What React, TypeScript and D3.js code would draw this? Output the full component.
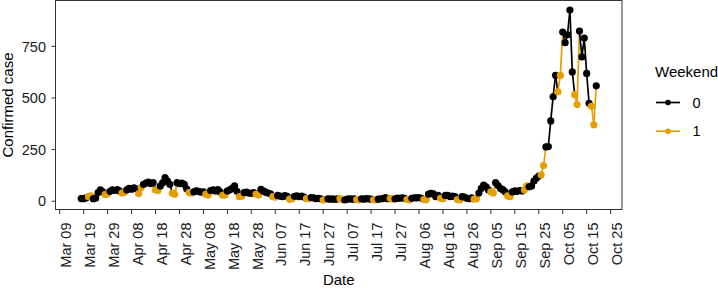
import React from "react";
import * as d3 from "d3";

const startDate = "2020-03-18";
// daily confirmed cases, Mar 18 2020 .. Oct 19 2020
const cases = [
  13, 12, 16, 22, 26,
  12, 15, 42, 55, 45, 33, 36,
  48, 55, 52, 56, 50, 40, 44,
  55, 62, 58, 65, 60, 37, 66,
  82, 88, 93, 85, 90, 55, 52,
  74, 90, 114, 98, 82, 40, 34,
  90, 85, 88, 82, 60, 42, 40,
  45, 50, 48, 44, 46, 34, 30,
  52, 55, 50, 56, 45, 29, 30,
  50, 55, 62, 74, 48, 22, 24,
  42, 44, 40, 38, 42, 34, 30,
  58, 50, 44, 40, 36, 22, 20,
  28, 25, 22, 27, 24, 10, 12,
  24, 26, 22, 25, 20, 13, 12,
  18, 16, 13, 14, 12, 6, 8,
  12, 10, 11, 9, 12, 13, 8,
  6, 10, 12, 10, 11, 8, 6,
  12, 10, 13, 12, 10, 7, 6,
  10, 12, 13, 18, 12, 14, 10,
  12, 15, 14, 16, 14, 8, 6,
  14, 17, 16, 18, 14, 8, 7,
  34, 38, 36, 22, 28, 14, 12,
  28, 28, 22, 25, 22, 8, 6,
  22, 20, 14, 12, 16, 10, 12,
  40, 62, 78, 70, 55, 45, 40,
  90, 76, 62, 56, 45, 26, 22,
  45, 50, 48, 52, 50, 54, 74,
  70, 74, 98, 112, 122, 128, 173,
  263, 265, 389, 506, 610, 530, 609,
  819, 768, 806, 926, 626, 516, 468,
  824, 699, 790, 619, 474, 460, 370,
  559,
];

const xTickDates = [
  "2020-03-09", "2020-03-19", "2020-03-29", "2020-04-08", "2020-04-18", "2020-04-28",
  "2020-05-08", "2020-05-18", "2020-05-28", "2020-06-07", "2020-06-17", "2020-06-27",
  "2020-07-07", "2020-07-17", "2020-07-27", "2020-08-06", "2020-08-16", "2020-08-26",
  "2020-09-05", "2020-09-15", "2020-09-25", "2020-10-05", "2020-10-15", "2020-10-25",
];
const yTicks = [0, 250, 500, 750];
const legendLevels = ["0", "1"];
const levelColors = ["#000000", "#E69F00"];

const FONT = "'Liberation Sans', Arial, Helvetica, sans-serif";

export default function App() {
  const parse = d3.utcParse("%Y-%m-%d");
  const start = parse(startDate) as Date;
  const data = cases.map((v, i) => {
    const date = d3.utcDay.offset(start, i);
    const dow = date.getUTCDay();
    const weekend = dow === 0 || dow === 6 ? 1 : 0;
    return { date, v, weekend };
  });

  const panel = { left: 55.5, right: 622, top: 0.5, bottom: 209.5 };

  const [d0, d1] = d3.extent(data, (d) => d.date) as [Date, Date];
  const span = +d1 - +d0;
  const x = d3
    .scaleUtc()
    .domain([new Date(+d0 - span * 0.05), new Date(+d1 + span * 0.05)])
    .range([panel.left, panel.right]);

  const [v0, v1] = d3.extent(data, (d) => d.v) as [number, number];
  const vs = v1 - v0;
  const y = d3
    .scaleLinear()
    .domain([v0 - vs * 0.05, v1 + vs * 0.05])
    .range([panel.bottom, panel.top]);

  const fmt = d3.utcFormat("%b %d");
  const color = d3.scaleOrdinal<number, string>().domain([0, 1]).range(levelColors);

  const segments = data.slice(0, -1).map((d, i) => ({
    x1: x(d.date),
    y1: y(d.v),
    x2: x(data[i + 1].date),
    y2: y(data[i + 1].v),
    c: color(d.weekend),
  }));

  const axisColor = "#333333";
  const tickSize = 14.5;
  const titleSize = 15;

  return (
    <svg
      width={718}
      height={288}
      style={{ position: "absolute", left: 0, top: 0, background: "#fff" }}
      fontFamily={FONT}
    >
      <rect x={0} y={0} width={718} height={288} fill="#fff" />
      <g>
        {segments.map((s, i) => (
          <line key={i} x1={s.x1} y1={s.y1} x2={s.x2} y2={s.y2} stroke={s.c} strokeWidth={1.7} />
        ))}
      </g>
      <g>
        {data.map((d, i) => (
          <circle key={i} cx={x(d.date)} cy={y(d.v)} r={3.6} fill={color(d.weekend)} />
        ))}
      </g>
      <rect
        x={panel.left}
        y={panel.top}
        width={panel.right - panel.left}
        height={panel.bottom - panel.top}
        fill="none"
        stroke={axisColor}
        strokeWidth={1}
      />
      <g>
        {yTicks.map((t) => (
          <g key={t}>
            <line x1={panel.left - 4} x2={panel.left} y1={y(t)} y2={y(t)} stroke={axisColor} strokeWidth={1} />
            <text x={46} y={y(t)} dy="0.36em" textAnchor="end" fontSize={tickSize} fill="#1a1a1a">
              {t}
            </text>
          </g>
        ))}
      </g>
      <g>
        {xTickDates.map((s) => {
          const dt = parse(s) as Date;
          const px = x(dt);
          return (
            <g key={s}>
              <line x1={px} x2={px} y1={panel.bottom} y2={panel.bottom + 4.5} stroke={axisColor} strokeWidth={1} />
              <text
                transform={`translate(${px + 11.2},${222.5}) rotate(-90)`}
                textAnchor="end"
                fontSize={tickSize}
                fill="#1a1a1a"
              >
                {fmt(dt)}
              </text>
            </g>
          );
        })}
      </g>
      <text x={(panel.left + panel.right) / 2} y={285} textAnchor="middle" fontSize={titleSize} fill="#000">
        Date
      </text>
      <text
        transform={`translate(13.3,${(panel.top + panel.bottom) / 2}) rotate(-90)`}
        textAnchor="middle"
        fontSize={titleSize}
        fill="#000"
      >
        Confirmed case
      </text>
      <g>
        <text x={655} y={77} fontSize={titleSize} fill="#000">
          Weekend
        </text>
        {legendLevels.map((lv, i) => {
          const ky = 102.5 + i * 28.7;
          return (
            <g key={lv}>
              <line x1={656} x2={680} y1={ky} y2={ky} stroke={levelColors[i]} strokeWidth={1.7} />
              <circle cx={668} cy={ky} r={2.8} fill={levelColors[i]} />
              <text x={692.5} y={ky} dy="0.36em" fontSize={tickSize} fill="#000">
                {lv}
              </text>
            </g>
          );
        })}
      </g>
    </svg>
  );
}
